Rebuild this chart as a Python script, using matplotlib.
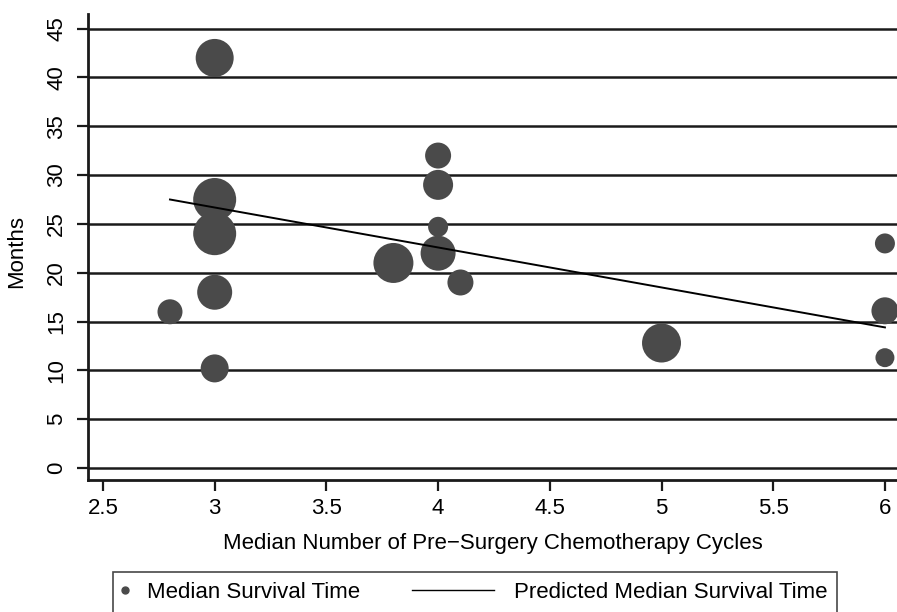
import matplotlib
matplotlib.use("Agg")
import matplotlib.pyplot as plt
from matplotlib.lines import Line2D
from matplotlib.legend_handler import HandlerBase

plt.rcParams['font.family'] = ['Liberation Sans', 'DejaVu Sans']

# -------- data
cycles = [2.8, 3.0, 3.0, 3.0, 3.0, 3.0, 3.8, 4.0, 4.0, 4.0, 4.0, 4.1, 5.0, 6.0, 6.0, 6.0]
survival = [16.0, 42.0, 27.5, 24.0, 18.0, 10.2, 21.0, 32.0, 29.0, 24.7, 22.0, 19.0, 12.8, 23.0, 16.1, 11.3]
weight = [156, 361, 462, 462, 306, 196, 400, 169, 225, 100, 306, 169, 380, 100, 182, 90]

fit_x = [2.8, 6.0]
fit_y = [27.5, 14.4]

xticks = [2.5, 3, 3.5, 4, 4.5, 5, 5.5, 6]
xticklabels = ['2.5', '3', '3.5', '4', '4.5', '5', '5.5', '6']
yticks = [0, 5, 10, 15, 20, 25, 30, 35, 40, 45]


class LongLine(HandlerBase):
    # legend line that reaches further left than the (narrow) handle box
    def create_artists(self, legend, orig_handle, xdescent, ydescent,
                       width, height, fontsize, trans):
        y = height / 2 - ydescent
        ext = 3.5 * fontsize
        ln = Line2D([-xdescent - ext, -xdescent + width], [y, y], color='black', lw=1)
        ln.set_transform(trans)
        return [ln]


fs = 16
fig = plt.figure(figsize=(8.97, 6.12), dpi=100)
ax = fig.add_axes([88 / 897, 1 - 480 / 612, 809 / 897, 466 / 612])

# bubble area proportional to weight (px radius^2 -> points^2)
sizes = [w * (2 * 0.72) ** 2 for w in weight]
ax.scatter(cycles, survival, s=sizes, color='#4a4a4a', edgecolors='none', zorder=3, clip_on=False)
ax.plot(fit_x, fit_y, color='black', lw=1.4, zorder=4)

for yv in yticks:
    ax.axhline(yv, color='#1a1a1a', lw=1.8, zorder=1)

ax.set_xlim(2.433, 6.054)
ax.set_ylim(-1.23, 46.5)
ax.set_xticks(xticks)
ax.set_xticklabels(xticklabels)
ax.set_yticks(yticks)
ax.set_yticklabels([str(v) for v in yticks], rotation=90, va='center')
ax.tick_params(axis='both', labelsize=fs, length=8, width=1.6, color='#1a1a1a')
ax.tick_params(axis='x', pad=5)
ax.tick_params(axis='y', pad=7)

for side in ['top', 'right']:
    ax.spines[side].set_visible(False)
for side in ['left', 'bottom']:
    ax.spines[side].set_linewidth(2.0)
    ax.spines[side].set_color('#1a1a1a')

ax.set_xlabel('Median Number of Pre\u2212Surgery Chemotherapy Cycles', fontsize=fs)
ax.set_ylabel('Months', fontsize=fs)
ax.xaxis.set_label_coords(0.5, -(543 - 480) / 466)
ax.xaxis.label.set_verticalalignment('center')
ax.yaxis.set_label_coords(-(88 - 17) / 809, 0.49)
ax.yaxis.label.set_verticalalignment('center')

h_pt = Line2D([], [], marker='o', color='#4a4a4a', ls='none', markersize=5)
h_ln = Line2D([], [], color='black', lw=1)
leg = fig.legend([h_pt, h_ln], ['Median Survival Time', 'Predicted Median Survival Time'],
                 loc='upper left', bbox_to_anchor=(113 / 897, 1 - 572 / 612), ncol=2,
                 fontsize=fs, frameon=True, fancybox=False, edgecolor='#1a1a1a',
                 handlelength=0.2, handletextpad=0.9, columnspacing=5.8,
                 borderaxespad=0, borderpad=0.45, handler_map={h_ln: LongLine()})
leg.get_frame().set_linewidth(1.2)

fig.savefig('out.png', dpi=100)
